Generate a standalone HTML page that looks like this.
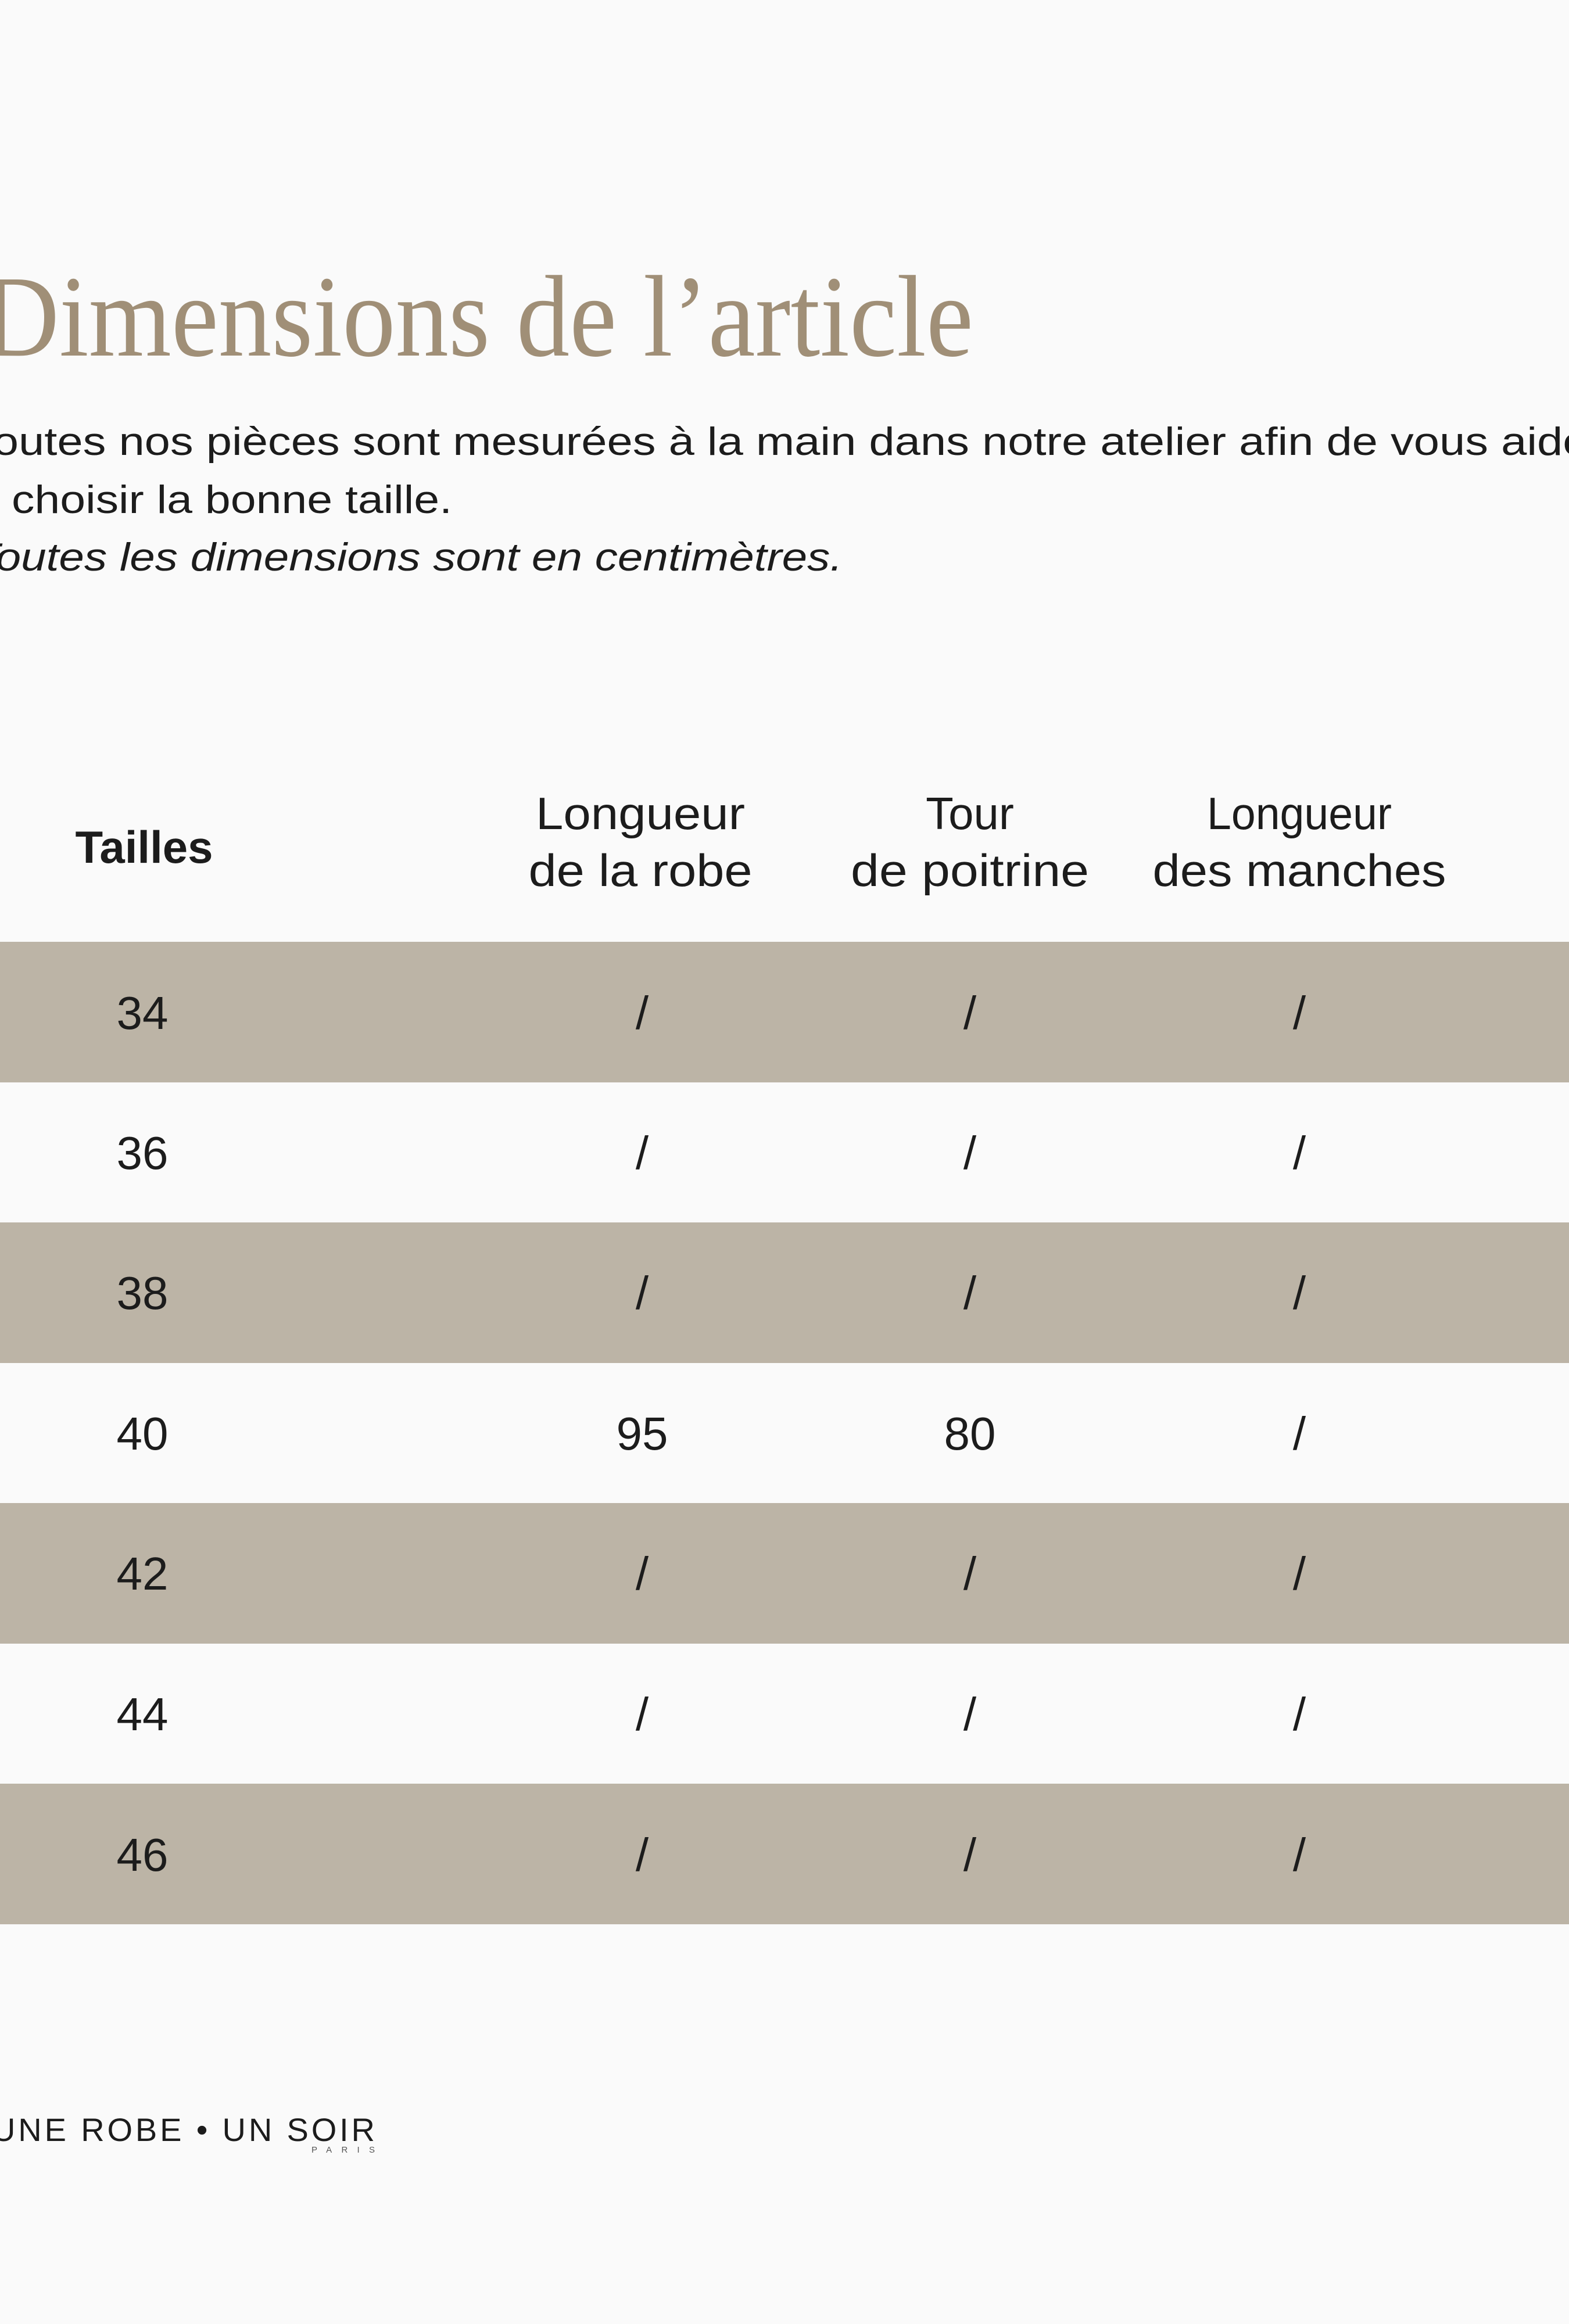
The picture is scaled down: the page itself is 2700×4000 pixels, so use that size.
<!DOCTYPE html>
<html><head><meta charset="utf-8"><style>
html,body{margin:0;padding:0;background:#fafafa;}
svg{display:block}
text{font-family:"Liberation Sans",sans-serif;fill:#1c1c1c}
</style></head><body>
<svg width="2700" height="4000" viewBox="0 0 2700 4000" xmlns="http://www.w3.org/2000/svg">
<rect width="2700" height="4000" fill="#fafafa"/>
<text x="-30" y="612" font-size="200" style="font-family:'Liberation Serif',serif;fill:#a08f77" textLength="1705" lengthAdjust="spacingAndGlyphs">Dimensions de l’article</text>
<text x="-52" y="783" font-size="68" textLength="2812" lengthAdjust="spacingAndGlyphs">Toutes nos pièces sont mesurées à la main dans notre atelier afin de vous aider</text>
<text x="-45" y="883" font-size="68">à</text>
<text x="20" y="883" font-size="68" textLength="758" lengthAdjust="spacingAndGlyphs">choisir la bonne taille.</text>
<text x="-48" y="982" font-size="68" font-style="italic" textLength="1498" lengthAdjust="spacingAndGlyphs">Toutes les dimensions sont en centimètres.</text>
<text x="248" y="1485" font-size="78" font-weight="bold" text-anchor="middle">Tailles</text>
<g font-size="78" text-anchor="middle">
<text x="1102" y="1427" textLength="360" lengthAdjust="spacingAndGlyphs">Longueur</text><text x="1102" y="1525" textLength="385" lengthAdjust="spacingAndGlyphs">de la robe</text>
<text x="1669" y="1427">Tour</text><text x="1669" y="1525" textLength="410" lengthAdjust="spacingAndGlyphs">de poitrine</text>
<text x="2236" y="1427" textLength="318" lengthAdjust="spacingAndGlyphs">Longueur</text><text x="2236" y="1525" textLength="505" lengthAdjust="spacingAndGlyphs">des manches</text>
</g>
<g fill="#bcb4a6">
<rect x="0" y="1621" width="2700" height="242"/>
<rect x="0" y="2104" width="2700" height="242"/>
<rect x="0" y="2587" width="2700" height="242"/>
<rect x="0" y="3070" width="2700" height="242"/>
</g>
<g font-size="80" text-anchor="middle">
<text x="245" y="1771">34</text><text x="1105" y="1771">/</text><text x="1669" y="1771">/</text><text x="2236" y="1771">/</text>
<text x="245" y="2012">36</text><text x="1105" y="2012">/</text><text x="1669" y="2012">/</text><text x="2236" y="2012">/</text>
<text x="245" y="2253">38</text><text x="1105" y="2253">/</text><text x="1669" y="2253">/</text><text x="2236" y="2253">/</text>
<text x="245" y="2495">40</text><text x="1105" y="2495">95</text><text x="1669" y="2495">80</text><text x="2236" y="2495">/</text>
<text x="245" y="2736">42</text><text x="1105" y="2736">/</text><text x="1669" y="2736">/</text><text x="2236" y="2736">/</text>
<text x="245" y="2978">44</text><text x="1105" y="2978">/</text><text x="1669" y="2978">/</text><text x="2236" y="2978">/</text>
<text x="245" y="3220">46</text><text x="1105" y="3220">/</text><text x="1669" y="3220">/</text><text x="2236" y="3220">/</text>
</g>
<text x="-14" y="3685" font-size="56" textLength="659" lengthAdjust="spacing">UNE ROBE • UN SOIR</text>
<text x="536" y="3705" font-size="15" textLength="109" lengthAdjust="spacing" style="fill:#555">PARIS</text>
</svg>
</body></html>
